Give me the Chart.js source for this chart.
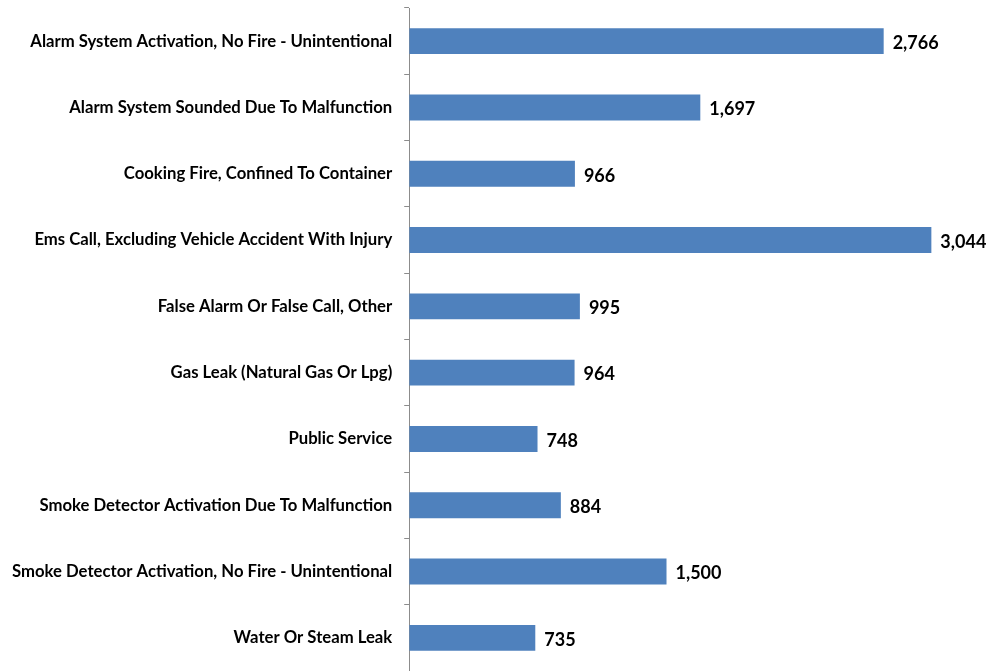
<!DOCTYPE html>
<html>
<head>
<meta charset="utf-8">
<script src="https://cdn.jsdelivr.net/npm/chart.js@4/dist/chart.umd.min.js"></script>
<style>
html,body{margin:0;padding:0;background:#fff;}
#wrap{width:991px;height:671px;position:relative;}
</style>
</head>
<body>
<div id="wrap"><canvas id="c"></canvas></div>
<script>
const categories = [
  "Alarm System Activation, No Fire - Unintentional",
  "Alarm System Sounded Due To Malfunction",
  "Cooking Fire, Confined To Container",
  "Ems Call, Excluding Vehicle Accident With Injury",
  "False Alarm Or False Call, Other",
  "Gas Leak (Natural Gas Or Lpg)",
  "Public Service",
  "Smoke Detector Activation Due To Malfunction",
  "Smoke Detector Activation, No Fire - Unintentional",
  "Water Or Steam Leak"
];
const counts = [2766, 1697, 966, 3044, 995, 964, 748, 884, 1500, 735];

const FONT = "Lato, 'Open Sans', sans-serif";

const valueLabels = {
  id: 'valueLabels',
  afterDatasetsDraw(chart) {
    const ctx = chart.ctx;
    const meta = chart.getDatasetMeta(0);
    ctx.save();
    ctx.font = "bold 18px " + FONT;
    ctx.fillStyle = "#000";
    ctx.textAlign = "left";
    ctx.textBaseline = "middle";
    meta.data.forEach((bar, i) => {
      ctx.fillText(counts[i].toLocaleString('en-US'), bar.x + 9, bar.y + 2);
    });
    ctx.restore();
  }
};

new Chart(document.getElementById('c'), {
  type: 'bar',
  data: {
    labels: categories,
    datasets: [{
      data: counts,
      backgroundColor: '#4F81BD',
      borderWidth: 0,
      categoryPercentage: 1,
      barPercentage: 0.39
    }]
  },
  options: {
    indexAxis: 'y',
    responsive: true,
    maintainAspectRatio: false,
    animation: false,
    layout: { padding: { top: 8, bottom: 0, right: 2, left: 0 } },
    plugins: { legend: { display: false }, tooltip: { enabled: false } },
    scales: {
      x: { display: false, min: 0, max: 3380 },
      y: {
        offset: true,
        afterFit(scale) { scale.paddingTop = 0; scale.paddingBottom = 0; },
        border: { display: true, color: '#8c8c8c', width: 1 },
        grid: { display: true, drawOnChartArea: false, offset: true, tickLength: 5, color: '#8c8c8c' },
        ticks: { color: '#000', padding: 12, font: { family: FONT, size: 16.7, weight: 'bold' }, autoSkip: false }
      }
    }
  },
  plugins: [valueLabels]
});
</script>
</body>
</html>
